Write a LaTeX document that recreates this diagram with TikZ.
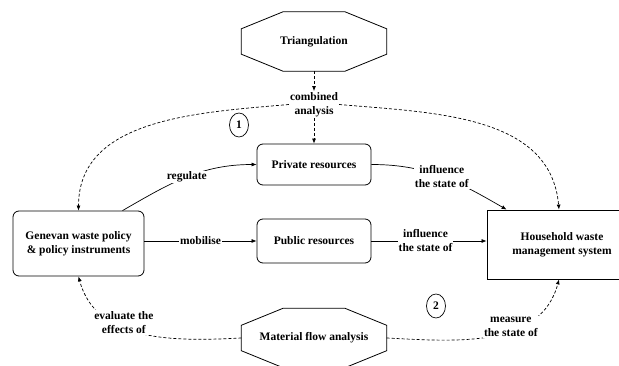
\documentclass[tikz,border=0pt]{standalone}
\usepackage{fontspec}
\setmainfont{Liberation Serif}
\usepackage{tikz}
\usetikzlibrary{shapes.geometric, arrows.meta}

\begin{document}
\begin{tikzpicture}[x=1pt,y=1pt,font=\bfseries\fontsize{11.5}{14}\selectfont,
  rbox/.style={draw=black, line width=0.8pt, rounded corners=6pt, align=center, inner sep=2pt},
  sbox/.style={draw=black, line width=0.8pt, align=center, inner sep=2pt},
  octo/.style={minimum width=145pt, minimum height=59pt, inner sep=0pt},
  lbl/.style={fill=white, align=center, inner sep=1pt},
  tag/.style={ellipse, draw=black, line width=0.7pt, minimum width=19pt, minimum height=24pt, inner sep=0pt},
  link/.style={line width=0.7pt, -{Latex[length=5pt,width=4pt]}},
  dlink/.style={link, dash pattern=on 3pt off 2pt}]
\useasboundingbox (0,0) rectangle (619,-366);
\clip (0,0) rectangle (619,-366);

\node[octo] (tri) at (314,-41.5) {Triangulation};
\node[octo] (mfa) at (314,-338) {Material flow analysis};
\foreach \n in {tri,mfa}
  \draw[line width=0.8pt] ([xshift=-31pt]\n.north) -- ([xshift=31pt]\n.north)
    -- ([yshift=-17pt]\n.north east) -- ([yshift=17pt]\n.south east)
    -- ([xshift=31pt]\n.south) -- ([xshift=-31pt]\n.south)
    -- ([yshift=17pt]\n.south west) -- ([yshift=-17pt]\n.north west) -- cycle;

\node[rbox, minimum width=131pt, minimum height=65pt] (gen) at (78.5,-243.5) {Genevan waste policy\\ \& policy instruments};
\node[rbox, minimum width=114pt, minimum height=41pt] (priv) at (314,-164.5) {Private resources};
\node[rbox, minimum width=114pt, minimum height=44pt] (pub) at (314,-241) {Public resources};
\node[sbox, minimum width=150pt, minimum height=69pt] (house) at (562,-244.5) {Household waste\\management system};

\node[tag] (one) at (239,-125) {1};
\node[tag] (two) at (436,-306) {2};

% solid links
\draw[link] ([xshift=44pt]gen.north) to[out=30,in=180] node[lbl,pos=0.5] (reg) {regulate} (priv.west);
\draw[link] (pub.west -| gen.east) -- node[lbl] (mob) {mobilise} (pub.west);
\draw[link] (priv.east) to[out=0,in=150] node[lbl,pos=0.5] (inf1) {influence\\the state of} ([xshift=20pt]house.north west);
\draw[link] (pub.east) -- node[lbl,pos=0.47] (inf2) {influence\\the state of} (pub.east -| house.west);

% dashed links
\node[lbl] (comb) at (314,-104.5) {combined\\analysis};
\draw[dlink] (tri.south) -- (comb.north);
\draw[dlink] (comb.south) -- (priv.north);
\draw[dlink] (comb.west) to[out=185,in=90] (gen.north);
\draw[dlink] (comb.east) to[out=-5,in=95] ([xshift=-3pt]house.north);
\draw[dlink] (mfa.west) to[out=183,in=-75] node[lbl,pos=0.6,yshift=5pt] (eval) {evaluate the\\effects of} (gen.south);
\draw[dlink] (mfa.east) to[out=-3,in=-105] node[lbl,pos=0.6,yshift=4pt] (meas) {measure\\the state of} ([xshift=-3pt]house.south);
\end{tikzpicture}
\end{document}
